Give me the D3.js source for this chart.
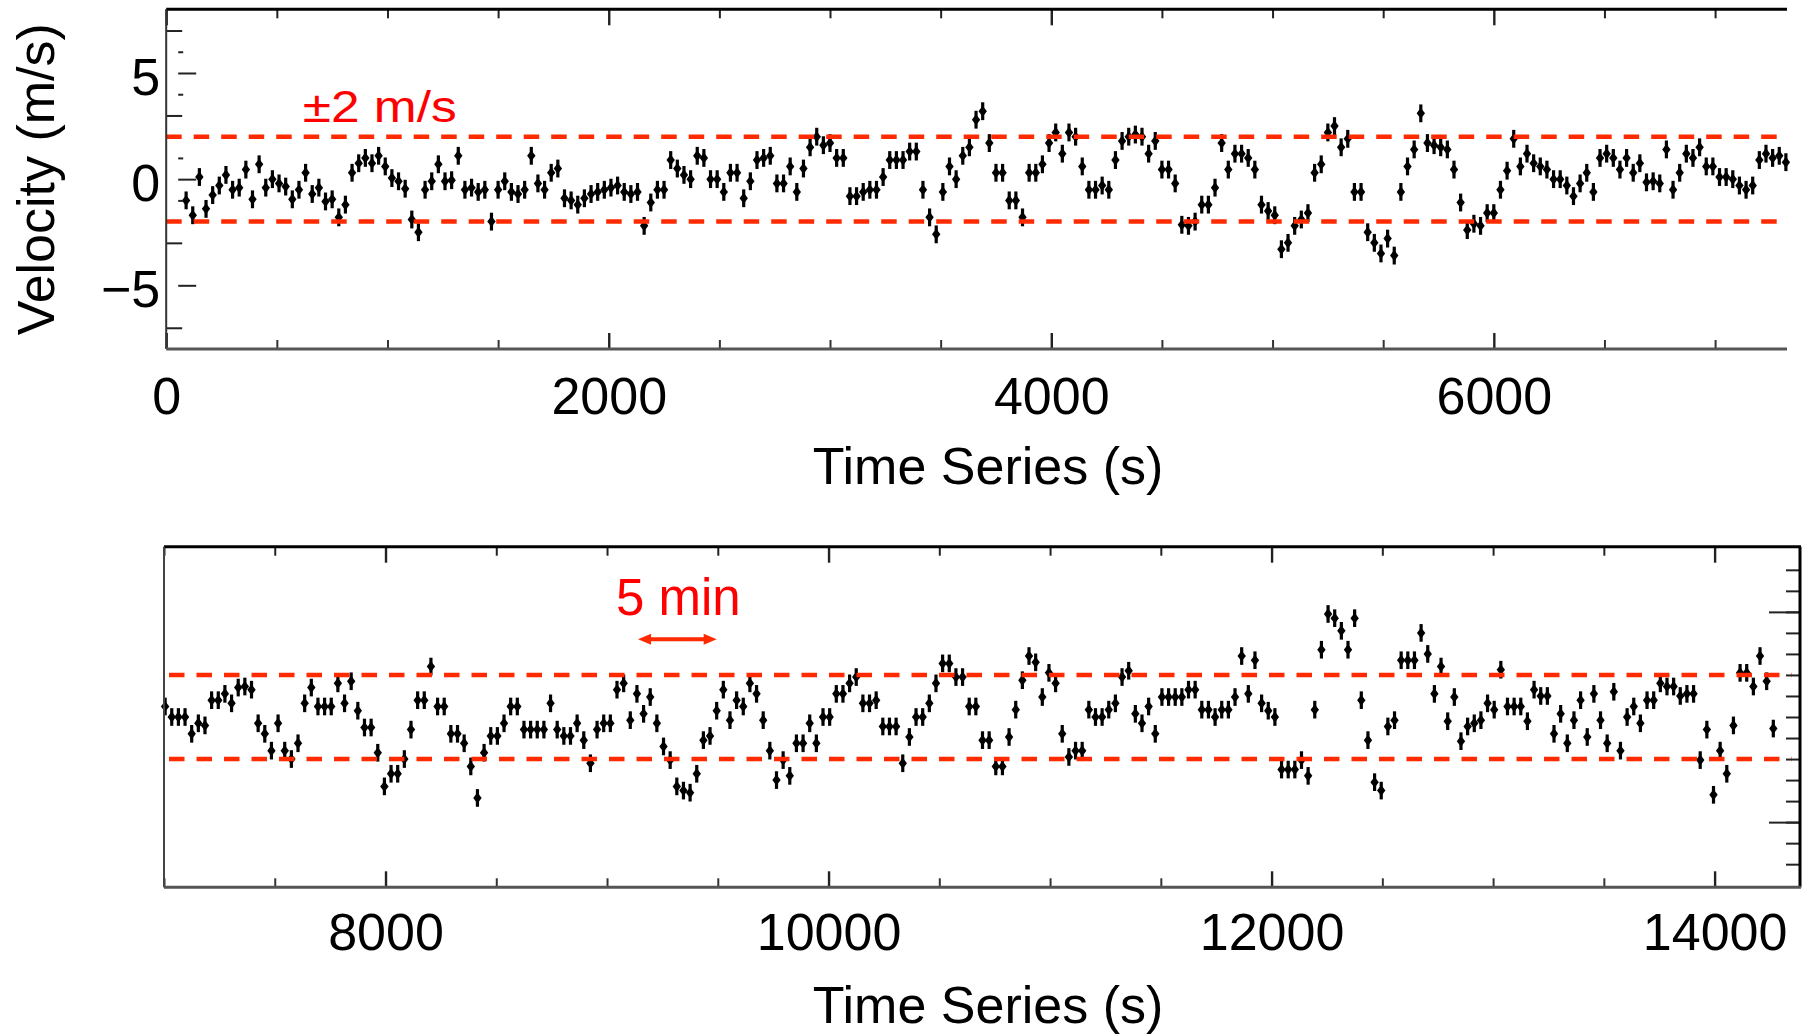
<!DOCTYPE html>
<html>
<head>
<meta charset="utf-8">
<script src="https://cdn.jsdelivr.net/npm/d3@7"></script>
<style>
  html, body { margin: 0; padding: 0; background: #fff; }
  svg { display: block; }
</style>
</head>
<body>
<svg id="chart" width="1805" height="1034"></svg>
<script>
// ---- data -------------------------------------------------------------
// Line-of-sight velocity (m/s), sampled every 30 s.
const cadence = 30;

// first segment: 0 – 7325 s
const firstStart = 90;
const firstVelocity = [
  -1.0, -1.7, 0.1, -1.4, -0.75, -0.3, 0.2, -0.5, -0.4, 0.45,
  -0.95, 0.7, -0.4, 0.0, -0.2, -0.35, -0.95, -0.5, 0.3, -0.7,
  -0.4, -1.05, -0.95, -1.8, -1.2, 0.3, 0.75, 1.0, 0.75, 1.1,
  0.6, 0.05, -0.1, -0.45, -1.9, -2.5, -0.5, -0.1, 0.7, -0.1,
  -0.05, 1.1, -0.5, -0.4, -0.6, -0.5, -2.0, -0.5, -0.1, -0.6,
  -0.7, -0.5, 1.1, -0.2, -0.5, 0.3, 0.5, -0.9, -1.0, -1.2,
  -0.9, -0.7, -0.6, -0.5, -0.4, -0.3, -0.6, -0.7, -0.6, -2.2,
  -1.1, -0.5, -0.5, 0.9, 0.5, 0.2, 0.0, 1.1, 1.0, 0.0,
  0.0, -0.6, 0.3, 0.3, -0.9, -0.1, 0.9, 1.0, 1.1, -0.2,
  -0.2, 0.6, -0.6, 0.5, 1.5, 2.0, 1.6, 1.7, 1.0, 1.0,
  -0.8, -0.8, -0.6, -0.5, -0.5, 0.1, 0.9, 0.9, 0.9, 1.3,
  1.3, -0.5, -1.8, -2.6, -0.6, 0.6, 0.0, 1.1, 1.5, 2.8,
  3.2, 1.7, 0.3, 0.3, -1.0, -1.0, -1.8, 0.3, 0.3, 0.7,
  1.7, 2.2, 1.2, 2.2, 2.0, 0.6, -0.5, -0.5, -0.3, -0.5,
  0.9, 1.8, 2.0, 2.1, 2.0, 1.2, 1.8, 0.45, 0.45, -0.2,
  -2.15, -2.2, -2.0, -1.2, -1.2, -0.4, 1.7, 0.45, 1.2, 1.2,
  1.0, 0.45, -1.2, -1.5, -1.7, -3.3, -3.0, -2.2, -1.9, -1.6,
  0.3, 0.7, 2.2, 2.5, 1.5, 1.9, -0.6, -0.6, -2.5, -3.0,
  -3.5, -2.8, -3.6, -0.6, 0.6, 1.4, 3.1, 1.7, 1.6, 1.5,
  1.4, 0.45, -1.1, -2.4, -2.1, -2.2, -1.6, -1.6, -0.5, 0.4,
  1.9, 0.6, 1.2, 0.75, 0.6, 0.45, 0.0, 0.0, -0.3, -0.8,
  -0.2, 0.3, -0.6, 1.0, 1.2, 1.0, 0.45, 1.0, 0.3, 0.75,
  -0.15, -0.1, -0.2, 1.4, -0.5, 0.3, 1.2, 1.0, 1.5, 0.6,
  0.6, 0.1, 0.1, 0.0, -0.3, -0.5, -0.3, 0.9, 1.2, 1.0,
  1.1, 0.8
];

// second segment: 7000 – 14390 s
const secondStart = 7005;
const secondVelocity = [
  0.5, 0.0, 0.0, 0.0, -0.8, -0.3, -0.4, 0.8, 0.8, 1.1,
  0.65, 1.4, 1.45, 1.3, -0.3, -0.8, -1.6, -0.3, -1.6, -2.0,
  -1.25, 0.65, 1.4, 0.5, 0.5, 0.5, 1.6, 0.65, 1.7, 0.3,
  -0.5, -0.5, -1.7, -3.3, -2.7, -2.7, -2.0, -0.6, 0.8, 0.8,
  2.4, 0.5, 0.5, -0.8, -0.8, -1.25, -2.35, -3.85, -1.7, -0.9,
  -0.9, -0.3, 0.5, 0.5, -0.6, -0.6, -0.6, -0.6, 0.65, -0.6,
  -0.9, -0.9, -0.3, -1.1, -2.2, -0.6, -0.3, -0.3, 1.3, 1.6,
  -0.15, 1.1, 0.15, 0.95, -0.3, -1.4, -2.05, -3.3, -3.5, -3.6,
  -2.7, -1.1, -0.9, 0.3, 1.3, -0.15, 0.8, 0.5, 1.6, 1.1,
  -0.15, -1.6, -3.0, -2.05, -2.8, -1.25, -1.25, -0.3, -1.25, 0.0,
  0.0, 1.1, 1.1, 1.6, 1.9, 0.65, 0.65, 0.8, -0.45, -0.45,
  -0.45, -2.2, -0.95, 0.0, 0.0, 0.65, 1.6, 2.55, 2.55, 1.9,
  1.9, 0.5, 0.5, -1.1, -1.1, -2.35, -2.35, -0.95, 0.35, 1.75,
  2.9, 2.6, 0.95, 2.1, 1.6, -0.8, -1.9, -1.6, -1.6, 0.35,
  0.0, 0.0, 0.35, 0.65, 1.9, 2.2, 0.15, -0.3, 0.5, -0.8,
  0.95, 0.95, 0.95, 0.95, 1.3, 1.3, 0.35, 0.35, 0.0, 0.35,
  0.35, 0.95, 2.9, 1.1, 2.7, 0.65, 0.3, 0.0, -2.5, -2.5,
  -2.5, -2.05, -2.8, 0.35, 3.2, 4.9, 4.7, 4.1, 3.2, 4.7,
  0.8, -1.1, -3.1, -3.5, -0.45, -0.15, 2.7, 2.7, 2.7, 4.0,
  3.0, 1.1, 2.4, -0.2, 0.95, -1.15, -0.45, -0.3, -0.15, 0.65,
  0.35, 2.25, 0.5, 0.5, 0.5, -0.2, 1.3, 1.0, 1.0, -0.8,
  0.15, -1.25, -0.15, 0.8, -0.95, 1.1, -0.15, -1.25, 1.2, -1.6,
  0.0, 0.5, -0.3, 0.8, 0.8, 1.6, 1.45, 1.45, 1.0, 1.1,
  1.1, -2.05, -0.6, -3.7, -1.6, -2.7, -0.4, 2.1, 2.1, 1.45,
  2.9, 1.7, -0.55
];

const velocityError = 0.42;          // half length of each error bar (m/s)
const thresholds = [2, -2];          // ±2 m/s guide lines
const firstDomain = [0, 7325];
const secondDomain = [7000, 14390];
const firstVelocityDomain = [-8, 8];
const secondVelocityDomain = [-8.1, 8.1];
const firstTimeLabels = [0, 2000, 4000, 6000];
const secondTimeLabels = [8000, 10000, 12000, 14000];
const velocityLabels = [5, 0, -5];
const fiveMinuteSpan = [9140, 9495];

// ---- drawing ----------------------------------------------------------
const FONT = '"Liberation Sans", Arial, Helvetica, sans-serif';
const GUIDE_RED = "#ff2a00";
const TEXT_RED = "#ff0000";

const svg = d3.select("#chart");
svg.append("rect").attr("width", 1805).attr("height", 1034).attr("fill", "#fff");

const toSeries = (start, values) => values.map((v, i) => ({ t: start + i * cadence, v }));
const minus = d => (d < 0 ? "\u2212" + Math.abs(d) : String(d));

function ticks(g, axis, width, color) {
  g.call(axis);
  g.select(".domain").remove();
  g.selectAll(".tick line").attr("stroke", color).attr("stroke-width", width);
  g.attr("font-family", FONT).attr("font-size", 52);
  g.selectAll(".tick text").attr("fill", "#000");
  return g;
}

function frameLine(g, x1, y1, x2, y2, color, width) {
  g.append("line").attr("x1", x1).attr("y1", y1).attr("x2", x2).attr("y2", y2)
    .attr("stroke", color).attr("stroke-width", width);
}

// each sample: a vertical error bar with a filled diamond at its value
function drawPoints(g, data, x, y) {
  const p = g.append("g").selectAll("g").data(data).join("g")
    .attr("transform", d => `translate(${x(d.t)},0)`);
  p.append("line")
    .attr("y1", d => y(d.v - velocityError))
    .attr("y2", d => y(d.v + velocityError))
    .attr("stroke", "#000").attr("stroke-width", 3.2);
  p.append("path")
    .attr("transform", d => `translate(0,${y(d.v)})`)
    .attr("d", "M0,-5.5L4.2,0L0,5.5L-4.2,0Z")
    .attr("fill", "#000");
}

function drawGuides(g, x0, x1, y) {
  g.append("g").selectAll("line").data(thresholds).join("line")
    .attr("x1", x0).attr("x2", x1)
    .attr("y1", d => y(d)).attr("y2", d => y(d))
    .attr("stroke", GUIDE_RED).attr("stroke-width", 4.5)
    .attr("stroke-dasharray", "15.5,12");
}

function timeAxes(g, x, top, bottom, domain, labels, padding) {
  const minor = d3.range(Math.ceil(domain[0] / 500) * 500, domain[1] + 1, 500)
    .filter(d => d % 2000 !== 0);
  const major = d3.range(Math.ceil(domain[0] / 2000) * 2000, domain[1] + 1, 2000);
  ticks(g.append("g").attr("transform", `translate(0,${top})`),
    d3.axisTop(x).tickValues(minor).tickSize(-9).tickFormat(""), 2, "#222");
  ticks(g.append("g").attr("transform", `translate(0,${top})`),
    d3.axisTop(x).tickValues(major).tickSize(-16).tickFormat(""), 2.4, "#222");
  ticks(g.append("g").attr("transform", `translate(0,${bottom})`),
    d3.axisBottom(x).tickValues(minor).tickSize(-9).tickFormat(""), 2, "#333");
  ticks(g.append("g").attr("transform", `translate(0,${bottom})`),
    d3.axisBottom(x).tickValues(major).tickSize(-16).tickFormat(""), 2.4, "#222");
  ticks(g.append("g").attr("transform", `translate(0,${bottom})`),
    d3.axisBottom(x).tickValues(labels).tickSize(0).tickPadding(padding).tickFormat(d3.format("d")),
    0, "none");
}

// ---- upper panel ------------------------------------------------------
{
  const left = 166.2, right = 1787, top = 9.3, bottom = 349;
  const x = d3.scaleLinear().domain(firstDomain).range([left, right]);
  const y = d3.scaleLinear().domain(firstVelocityDomain).range([bottom, top]);
  const g = svg.append("g");

  drawPoints(g, toSeries(firstStart, firstVelocity), x, y);
  drawGuides(g, left, right, y);

  timeAxes(g, x, top, bottom, firstDomain, firstTimeLabels, 28);

  // velocity ticks
  ticks(g.append("g").attr("transform", `translate(${left},0)`),
    d3.axisLeft(y).tickValues([7, 3, -3, -7]).tickSize(-16).tickFormat(""), 2, "#222");
  ticks(g.append("g").attr("transform", `translate(${left + 12},0)`),
    d3.axisLeft(y).tickValues([6, 4, 1, -1]).tickSize(-5).tickFormat(""), 2, "#222");
  const lab = ticks(g.append("g").attr("transform", `translate(${left + 12},0)`),
    d3.axisLeft(y).tickValues(velocityLabels).tickSize(-18).tickPadding(18).tickFormat(minus), 2, "#222");
  lab.selectAll(".tick text").attr("dy", "0.41em");

  frameLine(g, left, top, right, top, "#000", 3);
  frameLine(g, left, top, left, bottom, "#333", 2);
  frameLine(g, left, bottom, right, bottom, "#555", 3);

  g.append("text")
    .attr("x", x(617)).attr("y", y(thresholds[0]) - 15)
    .attr("font-family", FONT).attr("font-size", 44)
    .attr("textLength", 154).attr("lengthAdjust", "spacingAndGlyphs")
    .attr("fill", TEXT_RED).text("\u00b12 m/s");

  g.append("text")
    .attr("transform", `translate(54,${(top + bottom) / 2}) rotate(-90)`)
    .attr("text-anchor", "middle")
    .attr("font-family", FONT).attr("font-size", 52).attr("fill", "#000")
    .text("Velocity (m/s)");

  g.append("text")
    .attr("x", 988).attr("y", 484)
    .attr("text-anchor", "middle")
    .attr("font-family", FONT).attr("font-size", 52).attr("fill", "#000")
    .text("Time Series (s)");
}

// ---- lower panel ------------------------------------------------------
{
  const left = 164, right = 1801, top = 546.7, bottom = 887.3;
  const x = d3.scaleLinear().domain(secondDomain).range([left, right]);
  const y = d3.scaleLinear().domain(secondVelocityDomain).range([bottom, top]);
  const g = svg.append("g");

  drawPoints(g, toSeries(secondStart, secondVelocity), x, y);
  drawGuides(g, left + 5, right - 9, y);

  timeAxes(g, x, top, bottom, secondDomain, secondTimeLabels, 26);

  ticks(g.append("g").attr("transform", `translate(${right - 1},0)`),
    d3.axisRight(y).tickValues(d3.range(-7, 8)).tickSize(-14).tickFormat(""), 2, "#222");
  ticks(g.append("g").attr("transform", `translate(${right - 1},0)`),
    d3.axisRight(y).tickValues([5, -5]).tickSize(-31).tickFormat(""), 2, "#222");

  frameLine(g, left, top, right, top, "#000", 3);
  frameLine(g, left, top, left, bottom, "#444", 2);
  frameLine(g, right - 1, top, right - 1, bottom, "#000", 3);
  frameLine(g, left, bottom, right, bottom, "#555", 3);

  // 5-minute scale arrow
  const ay = y(3.7);
  const [ax0, ax1] = fiveMinuteSpan.map(x);
  const head = 13, half = 5.5;
  g.append("line")
    .attr("x1", ax0 + head - 1).attr("x2", ax1 - head + 1)
    .attr("y1", ay).attr("y2", ay)
    .attr("stroke", GUIDE_RED).attr("stroke-width", 4);
  g.append("path")
    .attr("d", `M${ax0},${ay}L${ax0 + head},${ay - half}L${ax0 + head},${ay + half}Z` +
               `M${ax1},${ay}L${ax1 - head},${ay - half}L${ax1 - head},${ay + half}Z`)
    .attr("fill", GUIDE_RED);
  g.append("text")
    .attr("x", (ax0 + ax1) / 2 + 1).attr("y", ay - 24)
    .attr("text-anchor", "middle")
    .attr("font-family", FONT).attr("font-size", 51).attr("fill", TEXT_RED)
    .text("5 min");

  g.append("text")
    .attr("x", 988).attr("y", 1023)
    .attr("text-anchor", "middle")
    .attr("font-family", FONT).attr("font-size", 52).attr("fill", "#000")
    .text("Time Series (s)");
}
</script>
</body>
</html>
